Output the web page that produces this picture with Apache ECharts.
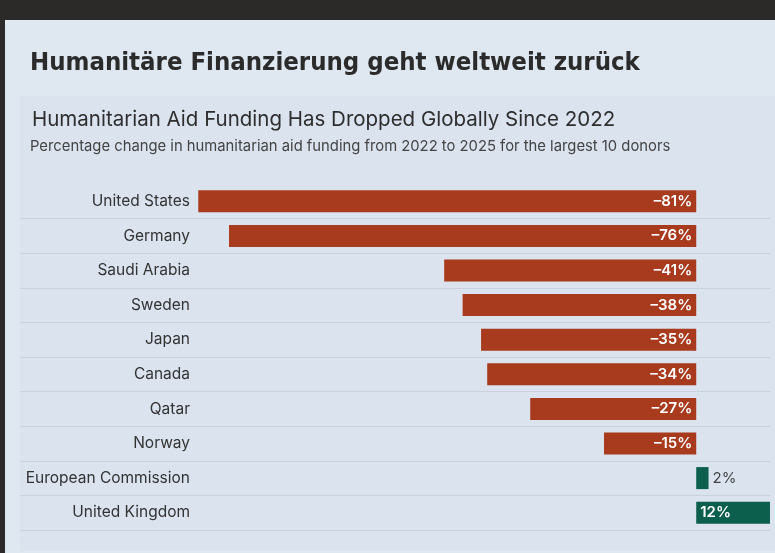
<!DOCTYPE html>
<html>
<head>
    <meta charset="utf-8" />
    <title>Humanitarian aid funding</title>
    <script src="https://cdn.jsdelivr.net/npm/echarts@6/dist/echarts.min.js"></script>
    <style>
        html, body { margin: 0; padding: 0; background: #dfe7f1; }
        #main { width: 775px; height: 553px; }
    </style>
</head>
<body>
    <div id="main"></div>
    <script type="text/javascript">
        // donors, top to bottom
        var donors = ['United States', 'Germany', 'Saudi Arabia', 'Sweden', 'Japan',
            'Canada', 'Qatar', 'Norway', 'European Commission', 'United Kingdom'];
        // percentage change 2022 -> 2025
        var change = [-81, -76, -41, -38, -35, -34, -27, -15, 2, 12];

        var red = '#a83a1e';
        var green = '#0c5e4d';

        var myChart = echarts.init(document.getElementById('main'));

        var barData = change.map(function (v) {
            var item = { value: v, itemStyle: { color: v < 0 ? red : green } };
            if (v >= 0 && v < 5) {
                item.label = { position: 'right', color: '#444', fontWeight: 'normal' };
            } else if (v >= 5) {
                item.label = { position: 'insideLeft' };
            }
            return item;
        });

        var option = {
            backgroundColor: '#dfe7f1',
            graphic: [
                { type: 'rect', left: 0, top: 0, shape: { width: 775, height: 20 }, style: { fill: '#2c2a28' } },
                { type: 'rect', left: 0, top: 0, shape: { width: 5, height: 553 }, style: { fill: '#2c2a28' } },
                { type: 'rect', left: 20, top: 96, shape: { width: 755, height: 455 }, style: { fill: '#dae3ee' } }
            ],
            title: [
                {
                    text: 'Humanitäre Finanzierung geht weltweit zurück',
                    left: 30, top: 50, padding: 0,
                    textStyle: { fontFamily: '"DejaVu Sans Condensed", "DejaVu Sans", sans-serif', fontWeight: 'bold', fontSize: 25.5, color: '#2b2b2b' }
                },
                {
                    text: 'Humanitarian Aid Funding Has Dropped Globally Since 2022',
                    left: 32, top: 109, padding: 0,
                    textStyle: { fontFamily: 'Inter', fontWeight: 'normal', fontSize: 20.5, color: '#2e2e2e' }
                },
                {
                    text: 'Percentage change in humanitarian aid funding from 2022 to 2025 for the largest 10 donors',
                    left: 30, top: 139, padding: 0,
                    textStyle: { fontFamily: 'Inter', fontWeight: 'normal', fontSize: 14.8, color: '#444' }
                }
            ],
            grid: { left: 20, right: 5, top: 184, bottom: 23 },
            xAxis: {
                type: 'value',
                min: -110,
                max: 12,
                show: false
            },
            yAxis: {
                type: 'category',
                data: donors,
                inverse: true,
                axisLine: { show: false },
                axisTick: { show: false },
                splitLine: {
                    show: true,
                    interval: function (i) { return i > 0; },
                    lineStyle: { color: '#c9d3de', width: 1 }
                },
                axisLabel: {
                    inside: true,
                    align: 'right',
                    margin: 170,
                    fontFamily: 'Inter',
                    fontSize: 15.5,
                    color: '#333'
                }
            },
            series: [
                {
                    type: 'bar',
                    data: barData,
                    barWidth: 22,
                    animation: false,
                    label: {
                        show: true,
                        position: 'insideRight',
                        distance: 4,
                        formatter: function (p) {
                            return (p.value < 0 ? '\u2013' + Math.abs(p.value) : p.value) + '%';
                        },
                        fontFamily: 'Inter',
                        fontSize: 15,
                        fontWeight: 600,
                        color: '#fff'
                    }
                }
            ]
        };

        myChart.setOption(option);
    </script>
</body>
</html>
